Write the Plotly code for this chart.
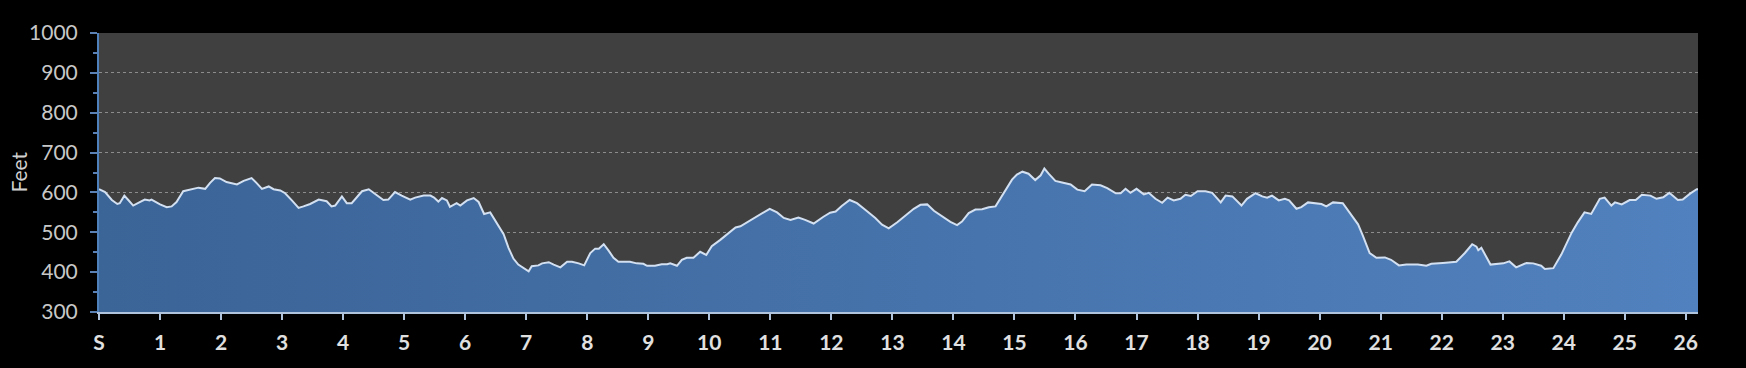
import plotly.graph_objects as go

miles = [0.0, 0.1, 0.21, 0.3, 0.34, 0.415, 0.48, 0.56, 0.66, 0.75, 0.83, 0.86, 1.0, 1.11, 1.19, 1.27,
         1.38, 1.49, 1.63, 1.74, 1.82, 1.9, 1.98, 2.09, 2.26, 2.37, 2.5, 2.58, 2.67, 2.78, 2.86, 2.97,
         3.05, 3.16, 3.27, 3.35, 3.46, 3.6, 3.73, 3.81, 3.87, 3.98, 4.06, 4.14, 4.22, 4.31, 4.42, 4.52,
         4.66, 4.74, 4.85, 4.96, 5.1, 5.18, 5.32, 5.43, 5.49, 5.56, 5.62, 5.7, 5.75, 5.86, 5.92, 6.03,
         6.14, 6.22, 6.31, 6.41, 6.52, 6.63, 6.71, 6.79, 6.87, 6.98, 7.04, 7.09, 7.2, 7.26, 7.37, 7.45,
         7.56, 7.67, 7.75, 7.86, 7.95, 8.05, 8.13, 8.19, 8.27, 8.35, 8.43, 8.51, 8.7, 8.81, 8.92, 8.98,
         9.11, 9.22, 9.31, 9.36, 9.47, 9.55, 9.63, 9.74, 9.85, 9.95, 10.04, 10.18, 10.29, 10.43, 10.51,
         10.62, 10.73, 10.86, 10.99, 11.11, 11.22, 11.33, 11.46, 11.57, 11.71, 11.87, 11.98, 12.07,
         12.17, 12.3, 12.42, 12.56, 12.72, 12.83, 12.94, 13.08, 13.21, 13.35, 13.46, 13.57, 13.68,
         13.81, 13.95, 14.06, 14.14, 14.25, 14.36, 14.47, 14.58, 14.69, 14.83, 14.96, 15.04, 15.13,
         15.23, 15.34, 15.43, 15.49, 15.56, 15.67, 15.78, 15.92, 16.03, 16.15, 16.27, 16.41, 16.52,
         16.66, 16.74, 16.82, 16.9, 17.0, 17.12, 17.2, 17.31, 17.42, 17.51, 17.61, 17.72, 17.8, 17.89,
         18.0, 18.13, 18.24, 18.38, 18.46, 18.57, 18.72, 18.81, 18.95, 19.06, 19.14, 19.22, 19.33,
         19.43, 19.5, 19.62, 19.7, 19.81, 19.92, 20.03, 20.11, 20.22, 20.38, 20.49, 20.63, 20.71,
         20.82, 20.93, 21.07, 21.17, 21.3, 21.42, 21.61, 21.75, 21.83, 22.02, 22.24, 22.38, 22.5,
         22.57, 22.6, 22.65, 22.8, 23.01, 23.11, 23.22, 23.39, 23.5, 23.63, 23.69, 23.83, 23.96,
         24.13, 24.23, 24.34, 24.45, 24.59, 24.67, 24.78, 24.84, 24.95, 25.08, 25.18, 25.28, 25.42,
         25.52, 25.63, 25.73, 25.87, 25.95, 26.07, 26.18, 26.2]

elevation = [608, 601, 581, 571, 573, 592, 581, 567, 575, 582, 580, 582, 570, 563, 565, 576,
             603, 607, 612, 609, 624, 636, 635, 626, 620, 629, 636, 624, 609, 615, 608, 605,
             598, 580, 561, 565, 571, 582, 578, 565, 567, 590, 573, 573, 587, 603, 608, 597,
             581, 582, 601, 592, 582, 587, 592, 592, 587, 577, 586, 580, 564, 573, 567, 580,
             586, 576, 546, 550, 522, 495, 461, 434, 419, 409, 402, 415, 417, 422, 425, 419,
             412, 426, 426, 422, 417, 448, 459, 459, 470, 454, 436, 426, 426, 422, 421, 416,
             416, 420, 420, 422, 416, 431, 436, 436, 451, 443, 465, 481, 495, 512, 515,
             525, 536, 548, 559, 550, 536, 531, 537, 531, 522, 539, 549, 552,
             566, 581, 573, 556, 536, 519, 510, 525, 542, 559, 569, 570, 554,
             540, 526, 518, 527, 548, 557, 558, 563, 565, 598, 632, 645, 652,
             647, 631, 643, 660, 647, 629, 625, 620, 607, 603, 620, 618, 611,
             598, 598, 609, 599, 609, 595, 599, 584, 574, 587, 580, 584, 594, 591,
             603, 603, 599, 575, 592, 590, 567, 584, 598, 590, 587, 592, 580,
             584, 580, 559, 563, 575, 573, 571, 565, 575, 573, 550, 520, 491,
             448, 436, 437, 431, 417, 419, 419, 416, 421, 423, 426, 448, 470,
             464, 455, 461, 419, 422, 427, 412, 423, 422, 416, 408, 410, 444,
             499, 525, 550, 546, 584, 587, 567, 575, 570, 581, 581, 594, 592,
             584, 588, 599, 581, 582, 597, 608, 608]

tick_vals = list(range(0, 27))
tick_text = ["S"] + [str(i) for i in range(1, 27)]
y_title = "Feet"

fig = go.Figure()
fig.add_trace(go.Scatter(
    x=miles, y=elevation, mode="lines",
    line=dict(color="#d2e0f2", width=2),
    fill="tozeroy",
    fillgradient=dict(type="horizontal",
                      colorscale=[[0, "#3b6497"], [1, "#5181be"]]),
    hoverinfo="x+y",
))

fig.update_layout(
    width=1746, height=368,
    paper_bgcolor="#000000", plot_bgcolor="#404040",
    margin=dict(l=99, r=48, t=33, b=56),
    showlegend=False,
    font=dict(family="Lato, sans-serif", color="#d0d0d0"),
)
fig.add_annotation(
    text=y_title, xref="paper", yref="paper", x=0, y=0.5,
    xanchor="center", yanchor="middle", xshift=-81, textangle=-90,
    showarrow=False,
    font=dict(family="Lato, sans-serif", size=21, color="#d0d0d0"),
)
fig.update_xaxes(
    range=[0, 26.2], tickvals=tick_vals, ticktext=tick_text,
    automargin=False,
    showgrid=False, zeroline=False,
    showline=True, linecolor="#b0c4de", linewidth=2,
    ticks="outside", ticklen=6, tickwidth=2, tickcolor="#b0c4de",
    tickfont=dict(family="Lato, sans-serif", size=21, color="#e0e0e0", weight="bold"),
    ticklabelstandoff=5,
)
fig.update_yaxes(
    range=[300, 1000], tickvals=[300, 400, 500, 600, 700, 800, 900, 1000],
    automargin=False,
    showgrid=True, gridcolor="#8c8c8c", gridwidth=1, griddash="dot",
    zeroline=False,
    showline=True, linecolor="#4f81bd", linewidth=2,
    ticks="outside", ticklen=7, tickwidth=2, tickcolor="#5a80b4",
    minor=dict(dtick=50, ticks="outside", ticklen=4, tickwidth=2, tickcolor="#5a80b4", showgrid=False),
    tickfont=dict(family="Lato, sans-serif", size=21, color="#c8c8c8"),
    ticklabelstandoff=8,
)

fig.write_html("out.html")
